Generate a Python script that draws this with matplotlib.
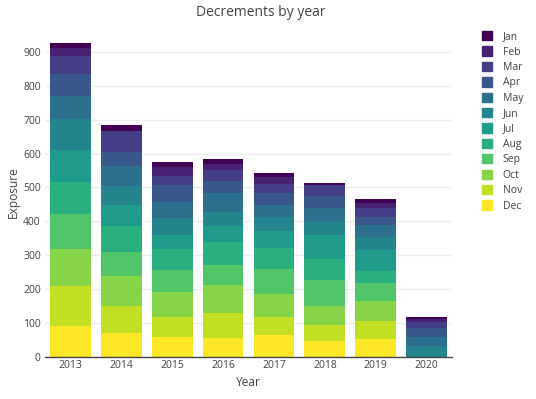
import matplotlib.pyplot as plt
import matplotlib.patches as mpatches
import numpy as np

years = ['2013', '2014', '2015', '2016', '2017', '2018', '2019', '2020']
months = ['Jan', 'Feb', 'Mar', 'Apr', 'May', 'Jun', 'Jul', 'Aug', 'Sep', 'Oct', 'Nov', 'Dec']

# exposure per month, one value per year
jan = [15, 20, 15, 14, 12, 6, 12, 6]
feb = [24, 0, 27, 18, 20, 0, 15, 9]
mar = [53, 60, 26, 32, 27, 33, 27, 18]
apr = [65, 41, 50, 36, 35, 35, 23, 26]
may = [68, 59, 47, 56, 35, 38, 35, 27]
jun = [91, 56, 50, 41, 42, 41, 39, 33]
jul = [94, 62, 42, 47, 50, 71, 62, 0]
aug = [95, 77, 62, 68, 62, 62, 35, 0]
sep = [103, 70, 64, 59, 73, 77, 53, 0]
oct_ = [109, 89, 74, 82, 68, 56, 59, 0]
nov = [118, 79, 59, 74, 53, 47, 53, 0]
dec = [92, 72, 60, 57, 66, 48, 54, 0]

series = [jan, feb, mar, apr, may, jun, jul, aug, sep, oct_, nov, dec]
colors = plt.cm.viridis(np.linspace(0, 1, 12))

plt.rcParams['font.family'] = ['Open Sans', 'DejaVu Sans']
txt = '#444444'

fig = plt.figure(figsize=(5.36, 3.99), dpi=100)
ax = fig.add_axes([45 / 536, 42 / 399, 407 / 536, 330 / 399])

x = np.arange(len(years))
bottom = np.zeros(len(years))
# Dec at the bottom, Jan on top
for i in range(11, -1, -1):
    vals = np.array(series[i], dtype=float)
    ax.bar(x, vals, width=0.8, bottom=bottom, color=colors[i], linewidth=0, zorder=3)
    bottom += vals

ax.set_xlim(-0.5, 7.5)
ax.set_ylim(0, 973)
ax.set_xticks(x)
ax.set_xticklabels(years)
ax.set_yticks(np.arange(0, 1000, 100))
ax.tick_params(axis='both', length=0, labelsize=7.5, colors=txt)
ax.tick_params(axis='x', pad=2)
ax.tick_params(axis='y', pad=3)
ax.grid(axis='y', color='#eeeeee', linewidth=1, zorder=0)
for s in ['top', 'right', 'left']:
    ax.spines[s].set_visible(False)
ax.spines['bottom'].set_color(txt)
ax.spines['bottom'].set_linewidth(1)
ax.spines['bottom'].set_zorder(4)

fig.text(248 / 536, 1 - 382 / 399, 'Year', ha='center', va='center', fontsize=8.6, color=txt)
fig.text(13 / 536, 1 - 192 / 399, 'Exposure', ha='center', va='center', rotation=90,
         fontsize=8.6, color=txt)
fig.text(261 / 536, 1 - 12 / 399, 'Decrements by year', ha='center', va='center',
         fontsize=10, color=txt)

handles = [mpatches.Patch(facecolor=colors[i], edgecolor=colors[i], label=months[i])
           for i in range(12)]
fig.legend(handles=handles, loc='upper left', bbox_to_anchor=(482 / 536, 1 - 31 / 399),
           frameon=False, fontsize=7.5, labelcolor=txt, handlelength=1.0, handleheight=1.0,
           handletextpad=1.0, labelspacing=0.4, borderaxespad=0, borderpad=0)

fig.savefig('out.png', dpi=100)
